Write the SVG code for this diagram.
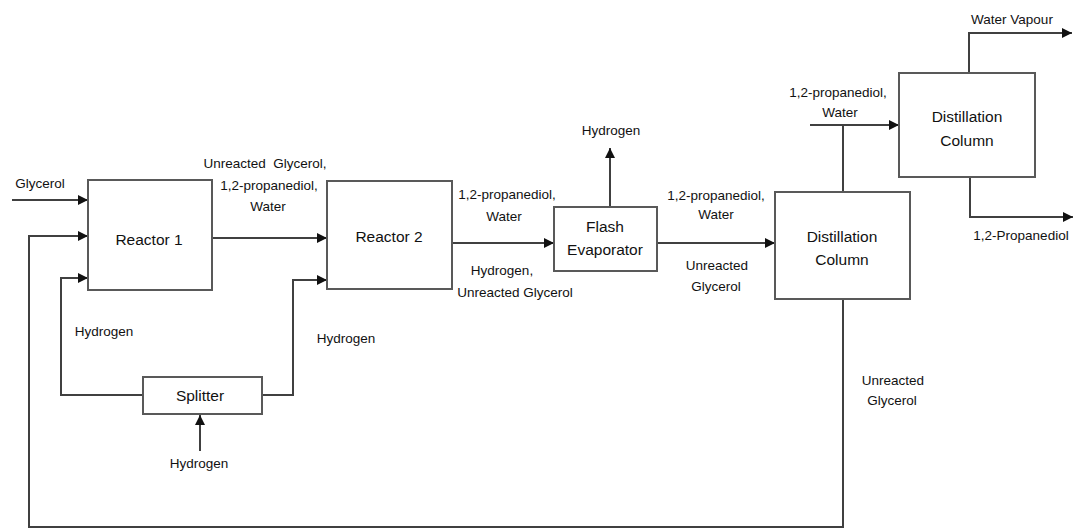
<svg xmlns="http://www.w3.org/2000/svg" width="1073" height="529" viewBox="0 0 1073 529">
  <style>
    .box { fill: #ffffff; stroke: #595959; stroke-width: 2; }
    .flow { fill: none; stroke: #404040; stroke-width: 2; }
    .arrow { marker-end: url(#head); }
    .name { font-family: "Liberation Sans", Arial, sans-serif; font-size: 15.5px; fill: #111111; text-anchor: middle; }
    .lbl { font-family: "Liberation Sans", Arial, sans-serif; font-size: 13.5px; fill: #111111; text-anchor: middle; }
  </style>
  <defs>
    <marker id="head" viewBox="0 0 10 10" refX="10" refY="5" markerWidth="10" markerHeight="10" markerUnits="userSpaceOnUse" orient="auto">
      <path d="M0,0 L10,5 L0,10 Z" fill="#111111"/>
    </marker>
  </defs>
  <rect width="1073" height="529" fill="#ffffff"/>

  <g id="connectors">
    <!-- glycerol feed -->
    <line class="flow arrow" x1="12" y1="200" x2="88" y2="200"/>
    <!-- unreacted glycerol recycle -->
    <polyline class="flow arrow" points="843,299 843,527 29,527 29,236 88,236"/>
    <!-- hydrogen from splitter to reactors -->
    <polyline class="flow arrow" points="143,395 61,395 61,278 88,278"/>
    <polyline class="flow arrow" points="262,395 293,395 293,280 327,280"/>
    <!-- hydrogen feed to splitter -->
    <line class="flow arrow" x1="200" y1="451" x2="200" y2="415"/>
    <!-- reactor 1 to reactor 2 -->
    <line class="flow arrow" x1="212" y1="238" x2="327" y2="238"/>
    <!-- reactor 2 to flash evaporator -->
    <line class="flow arrow" x1="452" y1="243" x2="554" y2="243"/>
    <!-- flash vapour -->
    <line class="flow arrow" x1="610" y1="207" x2="610" y2="148"/>
    <!-- flash liquid to distillation column -->
    <line class="flow arrow" x1="657" y1="243" x2="775" y2="243"/>
    <!-- column overhead to second column -->
    <line class="flow" x1="843" y1="192" x2="843" y2="125"/>
    <line class="flow arrow" x1="810" y1="125" x2="899" y2="125"/>
    <!-- second column products -->
    <polyline class="flow arrow" points="969,73 969,33 1072,33"/>
    <polyline class="flow arrow" points="970,177 970,217 1073,217"/>
  </g>

  <g id="reactor1">
    <rect class="box" x="88" y="180" width="124" height="110"/>
    <text class="name" x="149" y="245">Reactor 1</text>
  </g>
  <g id="reactor2">
    <rect class="box" x="327" y="181" width="125" height="108"/>
    <text class="name" x="389" y="242">Reactor 2</text>
  </g>
  <g id="flash-evaporator">
    <rect class="box" x="554" y="207" width="103" height="64"/>
    <text class="name" x="605" y="232">Flash</text>
    <text class="name" x="605" y="255">Evaporator</text>
  </g>
  <g id="distillation1">
    <rect class="box" x="775" y="192" width="135" height="107"/>
    <text class="name" x="842" y="242">Distillation</text>
    <text class="name" x="842" y="265">Column</text>
  </g>
  <g id="distillation2">
    <rect class="box" x="899" y="73" width="136" height="104"/>
    <text class="name" x="967" y="122">Distillation</text>
    <text class="name" x="967" y="146">Column</text>
  </g>
  <g id="splitter">
    <rect class="box" x="143" y="377" width="119" height="37"/>
    <text class="name" x="200" y="401">Splitter</text>
  </g>

  <g id="labels">
    <text class="lbl" x="40" y="188">Glycerol</text>
    <text class="lbl" x="265" y="168" xml:space="preserve">Unreacted  Glycerol,</text>
    <text class="lbl" x="269" y="190">1,2-propanediol,</text>
    <text class="lbl" x="268" y="211">Water</text>
    <text class="lbl" x="507" y="199">1,2-propanediol,</text>
    <text class="lbl" x="504" y="221">Water</text>
    <text class="lbl" x="502" y="275">Hydrogen,</text>
    <text class="lbl" x="515" y="297">Unreacted Glycerol</text>
    <text class="lbl" x="611" y="135">Hydrogen</text>
    <text class="lbl" x="716" y="200">1,2-propanediol,</text>
    <text class="lbl" x="716" y="219">Water</text>
    <text class="lbl" x="717" y="270">Unreacted</text>
    <text class="lbl" x="716" y="291">Glycerol</text>
    <text class="lbl" x="838" y="97">1,2-propanediol,</text>
    <text class="lbl" x="840" y="117">Water</text>
    <text class="lbl" x="1012" y="24">Water Vapour</text>
    <text class="lbl" x="1021" y="240">1,2-Propanediol</text>
    <text class="lbl" x="104" y="336">Hydrogen</text>
    <text class="lbl" x="346" y="343">Hydrogen</text>
    <text class="lbl" x="199" y="468">Hydrogen</text>
    <text class="lbl" x="893" y="385">Unreacted</text>
    <text class="lbl" x="892" y="405">Glycerol</text>
  </g>
</svg>
